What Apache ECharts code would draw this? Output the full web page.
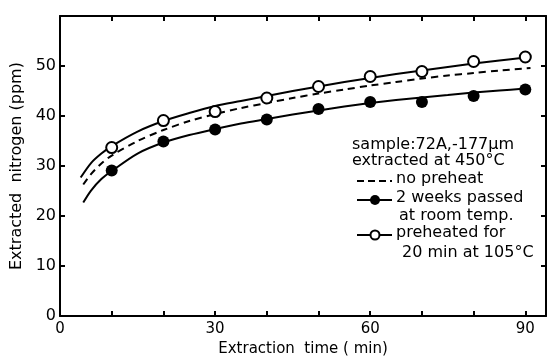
<!DOCTYPE html>
<html><head><meta charset="utf-8">
<script src="https://cdn.jsdelivr.net/npm/echarts@6/dist/echarts.min.js"></script>
<style>html,body{margin:0;padding:0;background:#fff}#c{width:548px;height:362px}</style>
</head><body><div id="c"></div>
<script>
// Measured points (minutes)
const pointTimes = [10, 20, 30, 40, 50, 60, 70, 80, 90];
const preheatedPts = [33.7, 39.1, 40.9, 43.6, 45.9, 47.9, 48.9, 50.9, 51.8];
const twoWeeksPts = [29.1, 34.9, 37.3, 39.3, 41.4, 42.8, 42.8, 44.0, 45.3];

// Fitted curves
const curveTopT = [4, 6, 8, 10, 15, 20, 25, 30, 35, 40, 45, 50, 55, 60, 65, 70, 75, 80, 85, 90];
const curveTopV = [27.7, 30.6, 32.5, 34.0, 36.9, 39.0, 40.6, 42.0, 43.0, 44.0, 45.0, 45.9, 46.8, 47.6, 48.4, 49.1, 49.8, 50.5, 51.1, 51.7];
const curveDashT = [4.5, 6, 8, 10, 15, 20, 25, 30, 35, 40, 45, 50, 55, 60, 65, 70, 75, 80, 85, 91];
const curveDashV = [26.3, 28.4, 30.5, 32.1, 35.0, 37.2, 39.0, 40.4, 41.6, 42.6, 43.6, 44.5, 45.3, 46.1, 46.8, 47.5, 48.1, 48.6, 49.1, 49.6];
const curveBotT = [4.5, 6, 8, 10, 15, 20, 25, 30, 35, 40, 45, 50, 55, 60, 65, 70, 75, 80, 85, 90];
const curveBotV = [22.7, 25.1, 27.4, 29.0, 32.5, 34.7, 36.2, 37.4, 38.5, 39.4, 40.3, 41.1, 41.9, 42.6, 43.2, 43.7, 44.2, 44.7, 45.1, 45.5];

const xTickLabels = [0, 30, 60, 90];
const yTickLabels = [0, 10, 20, 30, 40, 50];

const legendLines = [
  'sample:72A,-177\u00b5m',
  'extracted at 450\u00b0C',
  'no preheat',
  '2 weeks passed',
  'at room temp.',
  'preheated for',
  '20 min at 105\u00b0C'
];

const zip = (a, b) => a.map((t, i) => [t, b[i]]);
const F = '"DejaVu Sans", sans-serif';
const chart = echarts.init(document.getElementById('c'), null, {renderer: 'canvas'});
const axLine = (onZero) => ({show: true, onZero: onZero, lineStyle: {color: '#000', width: 2}});
const tick = () => ({show: true, inside: true, length: 5, interval: 0, lineStyle: {color: '#000', width: 2}});

const txt = (x, y, s) => ({type: 'text', left: x, top: y, style: {text: s, font: '16px ' + F, fill: '#000'}});

chart.setOption({
  animation: false,
  backgroundColor: '#fff',
  grid: {left: 60, right: 2, top: 16, bottom: 41},
  xAxis: [{
    type: 'value', min: 0, max: 94, interval: 10, position: 'bottom',
    axisLine: axLine(false), axisTick: tick(), splitLine: {show: false},
    axisLabel: {
      color: '#000', fontFamily: F, fontSize: 15, margin: 6, showMaxLabel: false,
      formatter: v => xTickLabels.includes(v) ? String(v) : ''
    },
    name: 'Extraction  time ( min)', nameLocation: 'middle', nameGap: 22,
    nameTextStyle: {color: '#000', fontFamily: F, fontSize: 15}
  }, {
    type: 'value', min: 0, max: 94, interval: 10, position: 'top', show: true,
    axisLine: axLine(false), axisTick: tick(), axisLabel: {show: false}, splitLine: {show: false}
  }],
  yAxis: [{
    type: 'value', min: 0, max: 60, interval: 10, position: 'left',
    axisLine: axLine(false), axisTick: tick(), splitLine: {show: false},
    axisLabel: {
      color: '#000', fontFamily: F, fontSize: 16, margin: 4,
      formatter: v => yTickLabels.includes(v) ? String(v) : ''
    },
    name: 'Extracted  nitrogen (ppm)', nameLocation: 'middle', nameGap: 30,
    nameTextStyle: {color: '#000', fontFamily: F, fontSize: 16}
  }, {
    type: 'value', min: 0, max: 60, interval: 10, position: 'right', show: true,
    axisLine: axLine(false), axisTick: tick(), axisLabel: {show: false}, splitLine: {show: false}
  }],
  series: [
    {type: 'line', smooth: 0.3, showSymbol: false, data: zip(curveTopT, curveTopV),
     lineStyle: {color: '#000', width: 2}},
    {type: 'line', smooth: 0.3, showSymbol: false, data: zip(curveDashT, curveDashV),
     lineStyle: {color: '#000', width: 2, type: [7, 5]}},
    {type: 'line', smooth: 0.3, showSymbol: false, data: zip(curveBotT, curveBotV),
     lineStyle: {color: '#000', width: 2}},
    {type: 'scatter', symbol: 'circle', symbolSize: 12, data: zip(pointTimes, twoWeeksPts),
     itemStyle: {color: '#000', opacity: 1}, z: 5},
    {type: 'scatter', symbol: 'circle', symbolSize: 11, data: zip(pointTimes, preheatedPts),
     itemStyle: {color: '#fff', borderColor: '#000', borderWidth: 2, opacity: 1}, z: 5},
    {type: 'line', xAxisIndex: 1, yAxisIndex: 1, data: [], silent: true}
  ],
  graphic: [
    txt(352, 137, legendLines[0]),
    txt(352, 153, legendLines[1]),
    {type: 'line', shape: {x1: 357, y1: 181, x2: 392, y2: 181}, style: {stroke: '#000', lineWidth: 2, lineDash: [7, 4]}},
    txt(396, 171, legendLines[2]),
    {type: 'line', shape: {x1: 357, y1: 200, x2: 392, y2: 200}, style: {stroke: '#000', lineWidth: 2}},
    {type: 'circle', shape: {cx: 375, cy: 200, r: 5}, style: {fill: '#000'}},
    txt(396, 190, legendLines[3]),
    txt(399, 208, legendLines[4]),
    {type: 'line', shape: {x1: 357, y1: 235, x2: 392, y2: 235}, style: {stroke: '#000', lineWidth: 2}},
    {type: 'circle', shape: {cx: 375, cy: 235, r: 4.5}, style: {fill: '#fff', stroke: '#000', lineWidth: 2}},
    txt(396, 225, legendLines[5]),
    txt(402, 245, legendLines[6])
  ]
});
</script></body></html>
